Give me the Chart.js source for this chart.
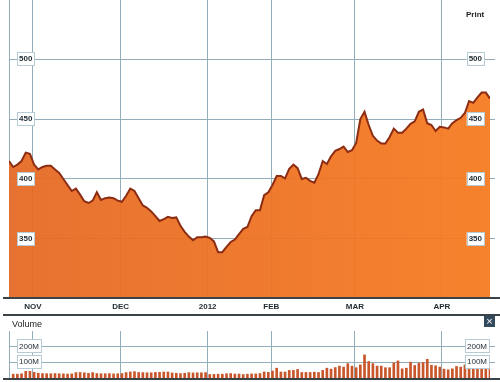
<!DOCTYPE html>
<html>
<head>
<meta charset="utf-8">
<script src="https://cdn.jsdelivr.net/npm/chart.js@4"></script>
<style>
  html, body { margin: 0; padding: 0; background: #fff; }
  body { width: 500px; height: 382px; position: relative; overflow: hidden; font-family: "Liberation Sans", Arial, sans-serif; }
  .box { position: absolute; left: 0; width: 500px; }
  .rule { position: absolute; background: #3a4348; }
  .txt { position: absolute; color: #222; white-space: nowrap; }
  #close { position: absolute; left: 484px; top: 316px; width: 11px; height: 11px; background: #33495c; color: #fff; font-size: 11px; line-height: 11px; text-align: center; }
</style>
</head>
<body>
<div class="box" style="top:0;height:314px"><canvas id="priceChart" width="500" height="314"></canvas></div>
<div class="box" style="top:331px;height:48px"><canvas id="volumeChart" width="500" height="48"></canvas></div>
<div class="rule" style="left:3px;top:297px;width:497px;height:2px"></div>
<div class="rule" style="left:3px;top:314px;width:497px;height:2px"></div>
<div class="rule" style="left:3px;top:378px;width:497px;height:2px"></div>
<div class="txt" style="left:12px;top:319px;font-size:9px">Volume</div>
<div class="txt" style="left:466px;top:10px;font-size:8px;font-weight:bold">Print</div>
<div id="close">×</div>
<script>
// trading days, index = position along the time axis
const prices = [415, 410, 412, 415, 422, 421, 412, 408, 410, 411, 411, 408, 405, 400, 395, 390, 392, 387, 381.5, 380,
    382, 389, 382.5, 384, 384.5, 384, 382, 381, 386, 392, 390, 384, 378, 376, 373, 369, 365, 366.5, 368.5, 367.5,
    368, 361, 356, 352, 349, 351.5, 351.5, 352, 351, 348, 339, 339, 343.5, 347.5, 349.5, 354, 358.5, 360, 369, 374,
    374, 386.5, 389, 395, 402.5, 402.5, 400.5, 408.5, 412, 409, 400, 401, 398.5, 397, 404, 415, 412.5, 419, 423.5, 425,
    427, 422.5, 424, 430, 450, 456, 445, 436, 432, 429.5, 429.5, 435, 442, 438.5, 438.5, 442, 446, 448, 456, 458,
    446.5, 445, 440, 443.5, 443, 442, 446.5, 449, 451, 455, 465, 463.5, 468, 472, 472, 467];

const volumes = [null, 24, 24, 27, 42, 42, 36, 30, 28, 27, 27, 28, 27, 26, 25, 26, 34, 35, 33, 30,
    34, 28, 27, 27, 28, 26, 27, 28, 34, 38, 40, 35, 34, 33, 33, 35, 36, 38, 38, 32,
    30, 28, 30, 34, 32, 33, 33, 34, 22, 23, 24, 24, 27, 28, 25, 25, 22, 24, 26, 26,
    28, 38, 36, 44, 62, 38, 38, 48, 48, 54, 35, 35, 35, 37, 35, 48, 62, 56, 66, 75,
    69, 91, 75, 65, 83, 146, 104, 91, 75, 75, 65, 65, 95, 108, 58, 62, 100, 79, 93, 98,
    118, 81, 77, 69, 56, 52, 58, 73, 69, 83, 93, 73, 73, 73, 73, 69];

const monthPositions = [0, 5.7, 26.7, 47.5, 62.7, 82.7, 103.5];
const monthLabels = ['', 'NOV', 'DEC', '2012', 'FEB', 'MAR', 'APR'];
const priceTicks = [350, 400, 450, 500];
const volumeTicks = [100, 200];

const GRID = '#93adba';
const INK = '#1f2a30';

const toPoints = (values) => values.map((v, i) => ({ x: i, y: v }));

// light border round the mirrored tick labels
const tickBoxes = {
    id: 'tickBoxes',
    afterDraw(chart) {
        const ctx = chart.ctx;
        ctx.save();
        ctx.strokeStyle = '#b5cbd6';
        ctx.lineWidth = 1;
        ['y', 'y2'].forEach((id) => {
            const scale = chart.scales[id];
            const opts = scale.options.ticks;
            ctx.font = opts.font.weight + ' ' + opts.font.size + 'px "Liberation Sans"';
            scale.ticks.forEach((t) => {
                const w = ctx.measureText(t.label).width;
                const y = Math.round(scale.getPixelForValue(t.value));
                const padX = opts.backdropPadding.x;
                const x = id === 'y' ? chart.chartArea.left + opts.padding - padX
                    : chart.chartArea.right + opts.padding - w - padX;
                ctx.strokeRect(Math.round(x) + 0.5, y - 6.5, Math.round(w + padX * 2), 13);
            });
        });
        ctx.restore();
    }
};

const monthAxis = (showLabels) => ({
    type: 'linear',
    min: 0,
    max: 115,
    offset: false,
    afterBuildTicks: (scale) => {
        scale.ticks = monthPositions.map((v) => ({ value: v }));
    },
    afterFit: (scale) => {
        scale.height = showLabels ? 16 : 0;
        scale.paddingLeft = 0;
        scale.paddingRight = 0;
    },
    border: { display: false },
    grid: { color: GRID, lineWidth: 1, drawTicks: false, offset: false },
    ticks: {
        display: showLabels,
        autoSkip: false,
        maxRotation: 0,
        padding: 4,
        color: INK,
        font: { family: '"Liberation Sans"', size: 8, weight: 'bold' },
        callback: (v, i) => monthLabels[i]
    }
});

const valueAxis = (position, min, max, values, padding, fmt, weight) => ({
    type: 'linear',
    position: position,
    min: min,
    max: max,
    afterBuildTicks: (scale) => {
        scale.ticks = values.map((v) => ({ value: v }));
    },
    afterFit: (scale) => {
        scale.width = position === 'left' ? 0 : 5;
        scale.paddingTop = 0;
        scale.paddingBottom = 0;
    },
    border: { display: false },
    grid: position === 'left'
        ? { color: GRID, lineWidth: 1, drawTicks: false }
        : { color: GRID, lineWidth: 1, drawOnChartArea: false, tickLength: 5 },
    ticks: {
        mirror: true,
        z: 1,
        padding: padding,
        color: INK,
        showLabelBackdrop: true,
        backdropColor: '#ffffff',
        backdropPadding: { x: 2, y: 2 },
        font: { family: '"Liberation Sans"', size: 8, weight: weight },
        callback: fmt
    }
});

const baseOptions = (scales, padding) => ({
    responsive: false,
    animation: false,
    layout: { autoPadding: false, padding: padding },
    plugins: { legend: { display: false }, tooltip: { enabled: false } },
    scales: scales
});

const createPriceChart = () => new Chart(document.getElementById('priceChart').getContext('2d'), {
    type: 'line',
    data: {
        datasets: [{
            data: toPoints(prices),
            borderColor: '#8c2c12',
            borderWidth: 2,
            pointRadius: 0,
            tension: 0,
            fill: 'start',
            backgroundColor: (c) => {
                const area = c.chart.chartArea;
                if (!area) return '#ea7026';
                const g = c.chart.ctx.createLinearGradient(area.left, 0, area.right, 0);
                g.addColorStop(0, 'rgba(229,105,36,0.94)');
                g.addColorStop(1, 'rgba(246,122,32,0.94)');
                return g;
            }
        }]
    },
    options: baseOptions({
        x: monthAxis(true),
        y: valueAxis('left', 300.83, 549.17, priceTicks, 10, (v) => String(v), 'bold'),
        y2: valueAxis('right', 300.83, 549.17, priceTicks, -8, (v) => String(v), 'bold')
    }, { left: 9, right: 5, top: 0, bottom: 0 }),
    plugins: [tickBoxes]
});

const createVolumeChart = () => new Chart(document.getElementById('volumeChart').getContext('2d'), {
    type: 'bar',
    data: {
        datasets: [{
            data: toPoints(volumes),
            backgroundColor: '#c9552a',
            barThickness: 2
        }]
    },
    options: baseOptions({
        x: monthAxis(false),
        y: valueAxis('left', 0, 297, volumeTicks, 10, (v) => v + 'M', 'normal'),
        y2: valueAxis('right', 0, 297, volumeTicks, -3, (v) => v + 'M', 'normal')
    }, { left: 9, right: 5, top: 0, bottom: 1 }),
    plugins: [tickBoxes]
});

document.addEventListener('DOMContentLoaded', () => {
    createPriceChart();
    createVolumeChart();
});
</script>
</body>
</html>
